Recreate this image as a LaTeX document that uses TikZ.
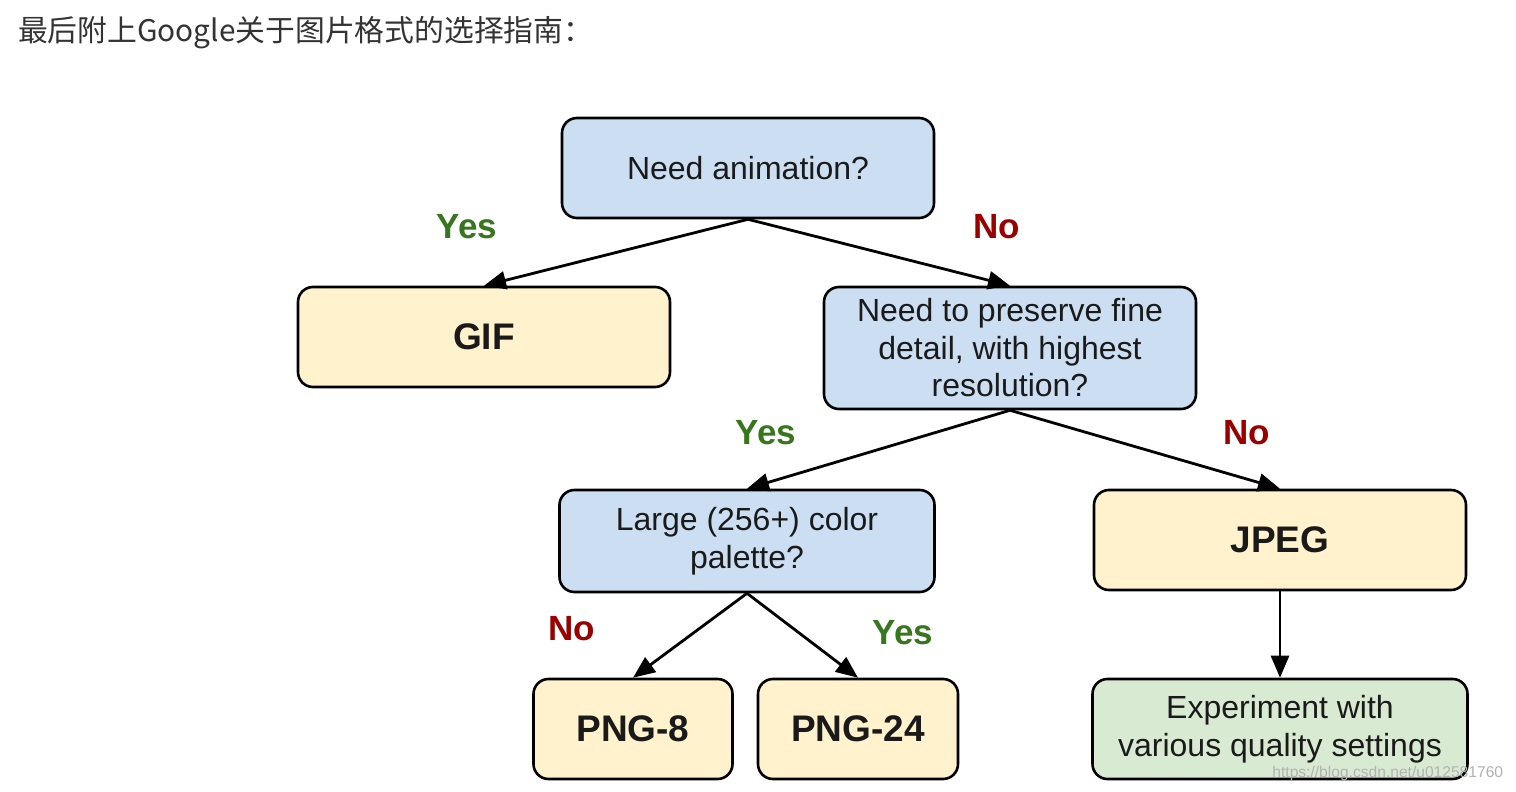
\documentclass[tikz,border=0pt]{standalone}
\usepackage{fontspec}
\setmainfont{Liberation Sans}
\newfontfamily\cjk{Noto Sans CJK SC}
\usetikzlibrary{arrows.meta}
\definecolor{qblue}{HTML}{CCDFF2}
\definecolor{ayellow}{HTML}{FFF2CC}
\definecolor{egreen}{HTML}{D9EAD3}
\definecolor{yesgreen}{HTML}{38761D}
\definecolor{nored}{HTML}{990000}
\definecolor{txt}{HTML}{1A1A1A}
\tikzset{
  box/.style={draw=black, line width=1.3pt, rounded corners=7.5pt, align=center,
    text=txt, minimum width=186pt, minimum height=50pt, inner sep=2pt},
  qbox/.style={box, fill=qblue, font=\fontsize{16}{18.75}\selectfont},
  abox/.style={box, fill=ayellow, font=\fontsize{18.5}{22}\selectfont\bfseries},
  ebox/.style={box, fill=egreen, font=\fontsize{16}{18.75}\selectfont},
  conn/.style={draw=black, line width=1.4pt, -{Triangle[length=11pt,width=9pt]}},
  yeslbl/.style={text=yesgreen, font=\fontsize{17.5}{20}\selectfont\bfseries},
  nolbl/.style={text=nored, font=\fontsize{17.5}{20}\selectfont\bfseries},
}
\begin{document}
\begin{tikzpicture}[x=0.5pt, y=-0.5pt]
\useasboundingbox[fill=white] (0,0) rectangle (1516,792);
\node[anchor=west, text=black!80, font=\cjk\fontsize{14.9}{16}\selectfont] (title) at (11,33) {最后附上Google关于图片格式的选择指南：};

\node[qbox] (anim) at (748,168) {Need animation?};
\node[abox] (gif) at (484,337) {GIF};
\node[qbox, minimum height=61pt] (pres) at (1010,348) {Need to preserve fine\\detail, with highest\\resolution?};
\node[qbox, minimum width=187.5pt, minimum height=51pt] (pal) at (747,541) {Large (256+) color\\palette?};
\node[abox] (jpeg) at (1280,540) {JPEG};
\node[abox, minimum width=99.5pt] (png8) at (633,729) {PNG-8};
\node[abox, minimum width=100pt] (png24) at (858,729) {PNG-24};
\node[ebox, minimum width=187.5pt] (exp) at (1280,729) {Experiment with\\various quality settings};

\draw[conn] (anim.south) -- (gif.north);
\draw[conn] (anim.south) -- (pres.north);
\draw[conn] (pres.south) -- (pal.north);
\draw[conn] (pres.south) -- (jpeg.north);
\draw[conn] (pal.south) -- (png8.north);
\draw[conn] (pal.south) -- (png24.north);
\draw[conn] (jpeg.south) -- (exp.north);

\node[yeslbl] (l1) at (467,227) {Yes};
\node[nolbl] (l2) at (997,227) {No};
\node[yeslbl] (l3) at (766,433) {Yes};
\node[nolbl] (l4) at (1247,433) {No};
\node[nolbl] (l5) at (572,629) {No};
\node[yeslbl] (l6) at (903,633) {Yes};

\node[anchor=west, text=black!30, font=\fontsize{7.8}{9}\selectfont, inner sep=0pt] (wm) at (1272,773) {https://blog.csdn.net/u012581760};
\end{tikzpicture}
\end{document}
